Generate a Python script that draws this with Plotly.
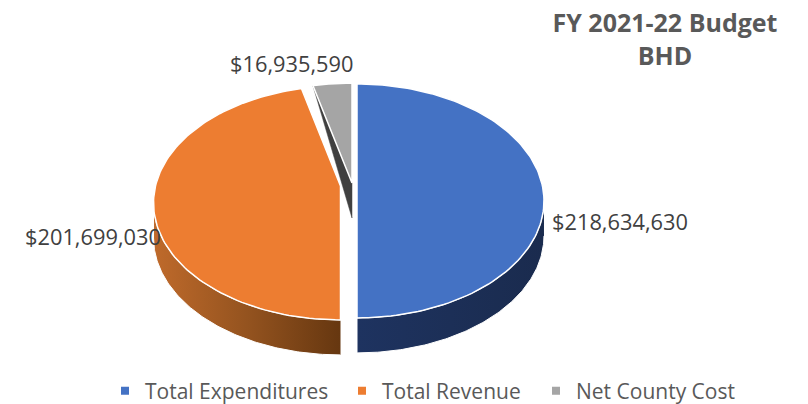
import math
import plotly.graph_objects as go

categories = ["Total Expenditures", "Total Revenue", "Net County Cost"]
values = [218634630, 201699030, 16935590]
colors = ["#4472C4", "#ED7D31", "#A5A5A5"]
title_lines = ["FY 2021-22 Budget", "BHD"]

# Layout of the tilted pie (pixel-like plot coordinates)
W, H = 808, 404
RX, RY, P = 185.0, 114.5, 0.145
DEPTH = 35
centers = [(357, 184), (340.5, 186), (352, 183)]
label_pos = [(620, 221), (93, 236), (291, 63)]
legend_pos = [(105, 391), (342, 391), (536, 391)]
walls = [
    dict(colorscale=[[0, "#1E3360"], [1, "#1A2B4E"]]),
    dict(colorscale=[[0, "#BF6A2B"], [0.5, "#94531F"], [1, "#663710"]]),
]
FONT = "Open Sans"
TEXT = "#595959"


def point(c, deg):
    t = math.radians(deg)
    u, v = math.sin(t), math.cos(t)
    k = 1 / (1 + P * v)
    return c[0] + RX * u * k, c[1] - RY * v * k


def arc(c, a, b, n=120):
    pts = [point(c, a + (b - a) * i / n) for i in range(n + 1)]
    return [p[0] for p in pts], [p[1] for p in pts]


total = sum(values)
spans = []
start = 0.0
for val in values:
    spans.append((start, start + 360.0 * val / total))
    start += 360.0 * val / total

edge_t = math.degrees(math.acos(-P))  # silhouette of the tilted disc
fig = go.Figure()


def face(c, a, b, color):
    xs, ys = arc(c, a, b)
    fig.add_trace(go.Scatter(
        x=[c[0]] + xs + [c[0]], y=[c[1]] + ys + [c[1]], mode="lines", fill="toself",
        fillcolor=color, line=dict(color="white", width=1.5), hoverinfo="skip", showlegend=False))


def wall(c, a, b, style):
    xs, ys = arc(c, a, b)
    fig.add_trace(go.Scatter(
        x=xs + xs[::-1], y=ys + [y + DEPTH for y in ys[::-1]], mode="lines", fill="toself",
        fillgradient=dict(type="horizontal", colorscale=style["colorscale"]),
        line=dict(color="white", width=1), hoverinfo="skip", showlegend=False))


# Net County Cost: cut face (triangle) then top
c = centers[2]
a, b = spans[2]
ox, oy = point(c, a)
fig.add_trace(go.Scatter(
    x=[ox, c[0], c[0], ox], y=[oy, c[1], c[1] + DEPTH, oy], mode="lines", fill="toself",
    fillcolor="#404040", line=dict(color="#404040", width=0.5), hoverinfo="skip", showlegend=False))
face(c, a, b, colors[2])

# Expenditures
wall(centers[0], edge_t, spans[0][1], walls[0])
face(centers[0], *spans[0], colors[0])
# Revenue
wall(centers[1], spans[1][0], 360 - edge_t, walls[1])
face(centers[1], *spans[1], colors[1])

# Data labels
for val, (lx, ly) in zip(values, label_pos):
    fig.add_annotation(x=lx, y=ly, text=f"${val:,}", showarrow=False,
                       font=dict(family=FONT, size=21.8, color="#404040"))

# Legend entries
legend_cfg = {}
for i, (name, color, (lx, ly)) in enumerate(zip(categories, colors, legend_pos)):
    key = "legend" if i == 0 else f"legend{i + 1}"
    fig.add_trace(go.Scatter(x=[None], y=[None], mode="markers", name=name,
                             marker=dict(symbol="square", size=8, color=color),
                             legend=key, showlegend=True))
    legend_cfg[key] = dict(x=lx / W, y=1 - ly / H, xanchor="left", yanchor="middle",
                           orientation="h", itemwidth=30, bgcolor="rgba(0,0,0,0)",
                           font=dict(family=FONT, size=21, color=TEXT))

fig.update_layout(
    width=W, height=H, margin=dict(l=0, r=0, t=0, b=0, autoexpand=False),
    paper_bgcolor="white", plot_bgcolor="white",
    xaxis=dict(range=[0, W], visible=False, fixedrange=True),
    yaxis=dict(range=[H, 0], visible=False, fixedrange=True),
    title=dict(text="<br>".join(f"<b>{t}</b>" for t in title_lines),
               x=665 / W, xanchor="center", y=1 - 32 / H, yanchor="middle",
               font=dict(family=FONT, size=25, color=TEXT)),
    **legend_cfg,
)
fig.write_html("out.html", config={"displayModeBar": False},
               post_script="document.body.style.margin='0';")
